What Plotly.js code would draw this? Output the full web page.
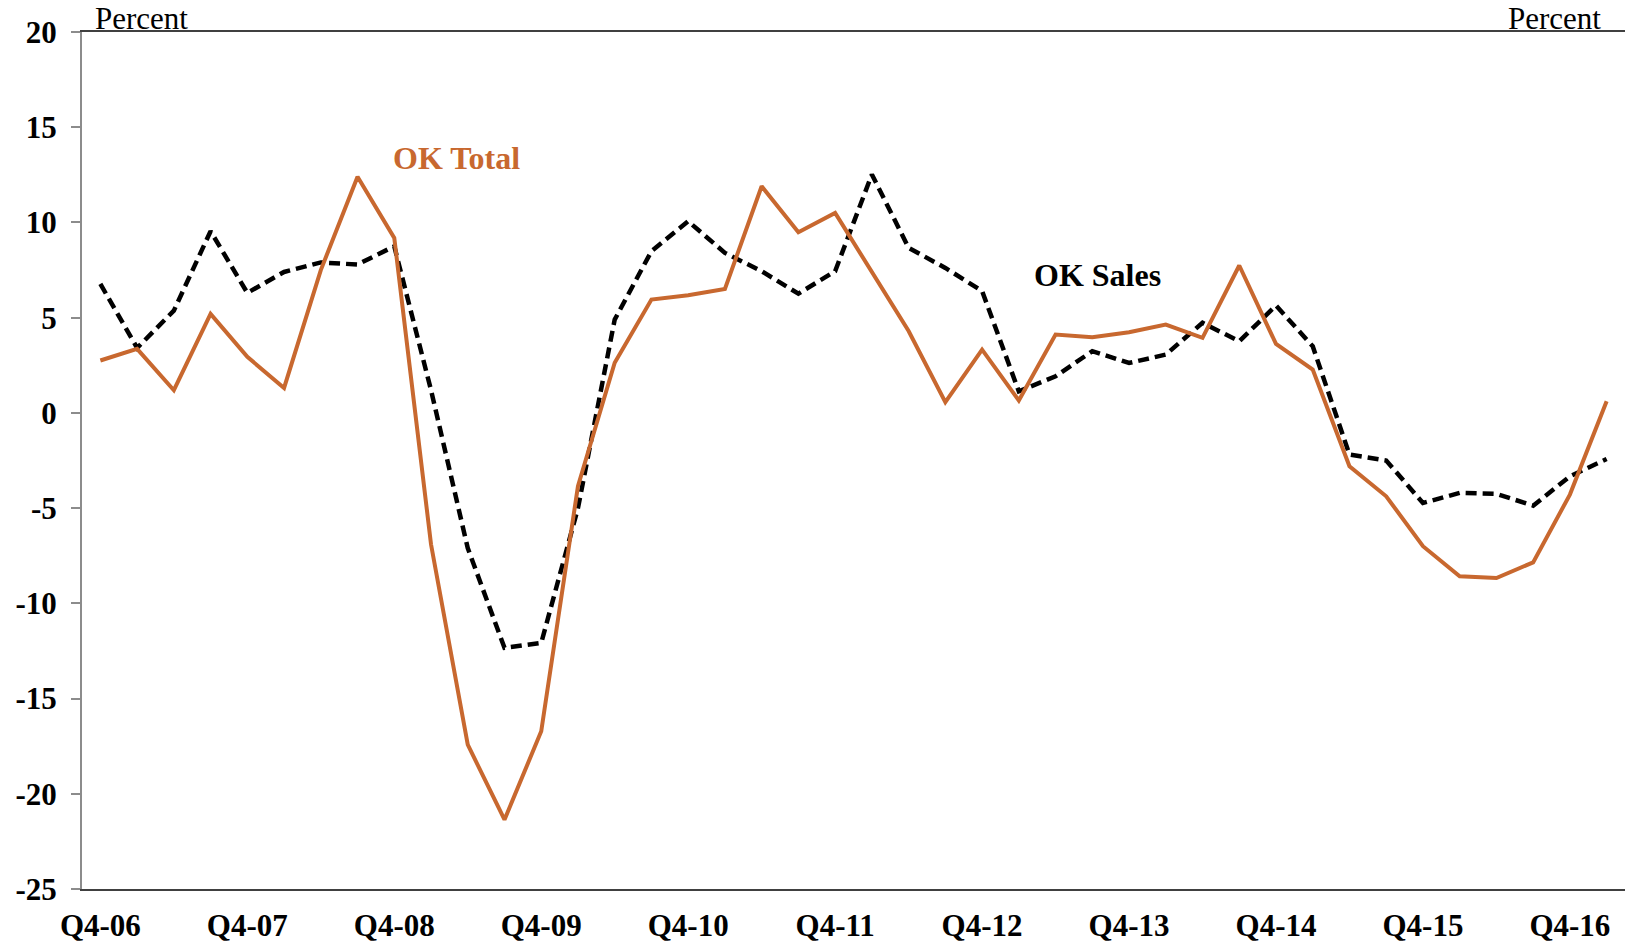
<!DOCTYPE html>
<html>
<head>
<meta charset="utf-8">
<script src="https://cdn.plot.ly/plotly-3.0.1.min.js"></script>
<style>
  html, body { margin: 0; padding: 0; background: #ffffff; }
  #chart { width: 1625px; height: 944px; }
</style>
</head>
<body>
<div id="chart"></div>
<script>
const quarters = [
  'Q4-06','Q1-07','Q2-07','Q3-07','Q4-07','Q1-08','Q2-08','Q3-08',
  'Q4-08','Q1-09','Q2-09','Q3-09','Q4-09','Q1-10','Q2-10','Q3-10',
  'Q4-10','Q1-11','Q2-11','Q3-11','Q4-11','Q1-12','Q2-12','Q3-12',
  'Q4-12','Q1-13','Q2-13','Q3-13','Q4-13','Q1-14','Q2-14','Q3-14',
  'Q4-14','Q1-15','Q2-15','Q3-15','Q4-15','Q1-16','Q2-16','Q3-16',
  'Q4-16','Q1-17'
];

const okTotal = [
  2.75, 3.36, 1.19, 5.2, 2.94, 1.31, 7.5, 12.4,
  9.19, -6.9, -17.42, -21.36, -16.72, -3.85, 2.63, 5.95,
  6.18, 6.51, 11.9, 9.49, 10.5, 7.4, 4.3, 0.56,
  3.32, 0.65, 4.11, 3.97, 4.23, 4.64, 3.94, 7.74,
  3.62, 2.27, -2.8, -4.38, -7.0, -8.58, -8.67, -7.85,
  -4.29, 0.61
];

const okSales = [
  6.77, 3.41, 5.37, 9.54, 6.3, 7.4, 7.9, 7.79,
  8.75, 1.2, -7.1, -12.34, -12.08, -5.0, 4.9, 8.49,
  10.06, 8.4, 7.44, 6.26, 7.44, 12.52, 8.67, 7.61,
  6.4, 1.13, 1.92, 3.24, 2.62, 3.06, 4.73, 3.76,
  5.64, 3.5, -2.19, -2.5, -4.73, -4.2, -4.25, -4.87,
  -3.33, -2.42
];

const xTickLabels = ['Q4-06','Q4-07','Q4-08','Q4-09','Q4-10','Q4-11','Q4-12','Q4-13','Q4-14','Q4-15','Q4-16'];
const yTickVals = [-25, -20, -15, -10, -5, 0, 5, 10, 15, 20];
const yTickLabels = ['-25', '-20', '-15', '-10', '-5', '0', '5', '10', '15', '20'];

const idx = quarters.map((q, i) => i);
const labelPos = xTickLabels.map(l => quarters.indexOf(l));
const boundaryPos = labelPos.slice(1).map(p => p - 0.5);

const FONT = '"Liberation Serif", "Times New Roman", Times, serif';
const ORANGE = '#C8682F';
const nQ = quarters.length;

const traces = [
  {
    x: idx, y: okSales, type: 'scatter', mode: 'lines', name: 'OK Sales',
    line: { color: '#000000', width: 4.5, dash: '11px,6px' },
    hoverinfo: 'skip'
  },
  {
    x: idx, y: okTotal, type: 'scatter', mode: 'lines', name: 'OK Total',
    line: { color: ORANGE, width: 4 },
    hoverinfo: 'skip'
  }
];

const layout = {
  width: 1625, height: 944,
  margin: { l: 82, r: 0, t: 32, b: 55, pad: 0 },
  paper_bgcolor: '#ffffff', plot_bgcolor: '#ffffff',
  showlegend: false,
  font: { family: FONT, color: '#000000', size: 31 },
  xaxis: {
    range: [-0.5, nQ - 0.5],
    tickmode: 'array', tickvals: labelPos, ticktext: xTickLabels,
    ticks: '', showgrid: false, zeroline: false,
    showline: true, linecolor: '#404040', linewidth: 2, mirror: true,
    tickfont: { family: FONT, size: 31, color: '#000000', weight: 'bold' },
    ticklabelstandoff: 8,
    fixedrange: true
  },
  xaxis2: {
    overlaying: 'x', anchor: 'free', position: 25 / 45,
    range: [-0.5, nQ - 0.5],
    tickmode: 'array', tickvals: boundaryPos,
    ticks: 'outside', ticklen: 8, tickwidth: 2, tickcolor: '#8c8c8c',
    showticklabels: false, showgrid: false, zeroline: false,
    showline: true, linecolor: '#8c8c8c', linewidth: 2,
    fixedrange: true
  },
  yaxis: {
    range: [-25, 20],
    tickmode: 'array', tickvals: yTickVals, ticktext: yTickLabels,
    ticks: 'outside', ticklen: 9, tickwidth: 2, tickcolor: '#8c8c8c',
    showline: true, linecolor: '#8c8c8c', linewidth: 2,
    showgrid: false, zeroline: false,
    tickfont: { family: FONT, size: 31, color: '#000000', weight: 'bold' },
    ticklabelstandoff: 8,
    fixedrange: true
  },
  annotations: [
    { text: 'Percent', xref: 'paper', yref: 'paper', x: 0.0071, y: 1.0157,
      xanchor: 'left', yanchor: 'middle', showarrow: false,
      font: { family: FONT, size: 31, color: '#000000' } },
    { text: 'Percent', xref: 'paper', yref: 'paper', x: 0.9857, y: 1.0157,
      xanchor: 'right', yanchor: 'middle', showarrow: false,
      font: { family: FONT, size: 31, color: '#000000' } },
    { text: '<b>OK Total</b>', xref: 'paper', yref: 'paper', x: 0.2424, y: 0.8527,
      xanchor: 'center', yanchor: 'middle', showarrow: false,
      font: { family: FONT, size: 32, color: ORANGE } },
    { text: '<b>OK Sales</b>', xref: 'paper', yref: 'paper', x: 0.6581, y: 0.716,
      xanchor: 'center', yanchor: 'middle', showarrow: false,
      font: { family: FONT, size: 32, color: '#000000' } }
  ]
};

Plotly.newPlot('chart', traces, layout, { displayModeBar: false, staticPlot: true });
</script>
</body>
</html>
